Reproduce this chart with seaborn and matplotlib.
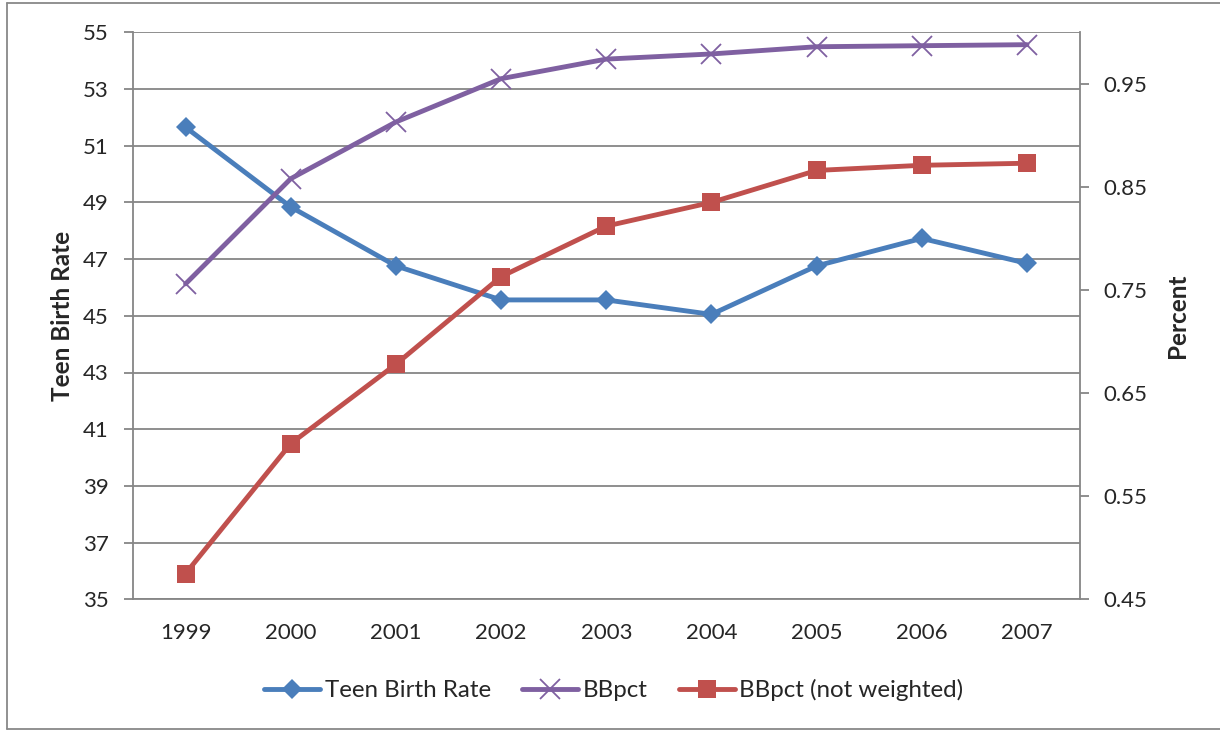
import matplotlib
matplotlib.use("Agg")
import matplotlib.pyplot as plt
from matplotlib.lines import Line2D
import seaborn as sns
import pandas as pd

years = ["1999", "2000", "2001", "2002", "2003", "2004", "2005", "2006", "2007"]
teen_birth_rate = [51.65, 48.84, 46.76, 45.56, 45.56, 45.05, 46.76, 47.73, 46.85]
bbpct = [0.756, 0.858, 0.913, 0.955, 0.974, 0.979, 0.986, 0.987, 0.988]
bbpct_unweighted = [0.475, 0.601, 0.678, 0.763, 0.812, 0.835, 0.866, 0.871, 0.873]

left_ticks = [35, 37, 39, 41, 43, 45, 47, 49, 51, 53, 55]
right_ticks = [0.45, 0.55, 0.65, 0.75, 0.85, 0.95]

blue = "#4A7EBB"
purple = "#7F60A1"
red = "#C0504D"
grid_col = "#868686"

sns.set_style("white")
plt.rcParams["font.family"] = ["Lato", "DejaVu Sans"]

df = pd.DataFrame({"year": range(len(years)), "tbr": teen_birth_rate,
                   "bb": bbpct, "bbu": bbpct_unweighted})

fig = plt.figure(figsize=(12.2, 7.3), dpi=100)
ax = fig.add_axes([133 / 1220, 1 - 599.3 / 730, (1079.5 - 133) / 1220, (599.3 - 32.3) / 730])
ax2 = ax.twinx()

sns.lineplot(data=df, x="year", y="tbr", ax=ax, color=blue, lw=3.5,
             marker="D", markersize=10, markeredgewidth=0, zorder=3)
sns.lineplot(data=df, x="year", y="bb", ax=ax2, color=purple, lw=3.5,
             marker="x", markersize=14, markeredgewidth=1.3, markeredgecolor=purple, zorder=3)
sns.lineplot(data=df, x="year", y="bbu", ax=ax2, color=red, lw=3.5,
             marker="s", markersize=13.5, markeredgewidth=0, zorder=3)

ax.set_xlim(-0.5, len(years) - 0.5)
ax.set_ylim(35, 55)
ax2.set_ylim(0.45, 1.0)
ax.set_yticks(left_ticks)
ax2.set_yticks(right_ticks)
ax2.set_yticklabels([f"{t:.2f}" for t in right_ticks])
ax.set_xticks(range(len(years)))
ax.set_xticklabels(years)

# category boundary tick marks on the x axis
ax.set_xticks([i - 0.5 for i in range(len(years) + 1)], minor=True)
ax.tick_params(axis="x", which="major", length=0, pad=17, labelsize=16)
ax.tick_params(axis="x", which="minor", length=6.5, width=1.3, color=grid_col, direction="out")
ax.tick_params(axis="y", length=6.5, width=1.3, color=grid_col, direction="out", pad=11, labelsize=16)
ax2.tick_params(axis="y", length=6.5, width=1.3, color=grid_col, direction="out", pad=11, labelsize=16)

ax.grid(axis="y", color=grid_col, lw=1.3)
ax.set_axisbelow(True)
for a in (ax, ax2):
    for s in a.spines.values():
        s.set_visible(False)
for a, side in ((ax, "left"), (ax, "bottom"), (ax2, "right")):
    a.spines[side].set_visible(True)
    a.spines[side].set_color(grid_col)
    a.spines[side].set_linewidth(1.3)

ax.set_xlabel("")
ax.set_ylabel("Teen Birth Rate", fontsize=17.5, fontweight="bold", labelpad=6)
ax2.set_ylabel("Percent", fontsize=17.5, fontweight="bold", labelpad=13)

handles = [
    Line2D([], [], color=blue, lw=3.5, marker="D", markersize=10, markeredgewidth=0),
    Line2D([], [], color=purple, lw=3.5, marker="x", markersize=14, markeredgewidth=1.3),
    Line2D([], [], color=red, lw=3.5, marker="s", markersize=13.5, markeredgewidth=0),
]
labels = ["Teen Birth Rate", "BBpct", "BBpct (not weighted)"]
fig.legend(handles, labels, loc="center", bbox_to_anchor=(614 / 1220, 1 - 690 / 730),
           ncol=3, frameon=False, fontsize=17.4, handlelength=2.3, handletextpad=0.2,
           columnspacing=1.3, borderpad=0, borderaxespad=0)

# outer chart border
border = dict(transform=fig.transFigure, color="#888888", lw=1.3)
fig.add_artist(Line2D([7 / 1220, 7 / 1220], [1 - 3 / 730, 1 - 729 / 730], **border))
fig.add_artist(Line2D([7 / 1220, 1.0], [1 - 3 / 730, 1 - 3 / 730], **border))
fig.add_artist(Line2D([7 / 1220, 1.0], [1 - 729 / 730, 1 - 729 / 730], **border))

fig.savefig("out.png", dpi=100)
